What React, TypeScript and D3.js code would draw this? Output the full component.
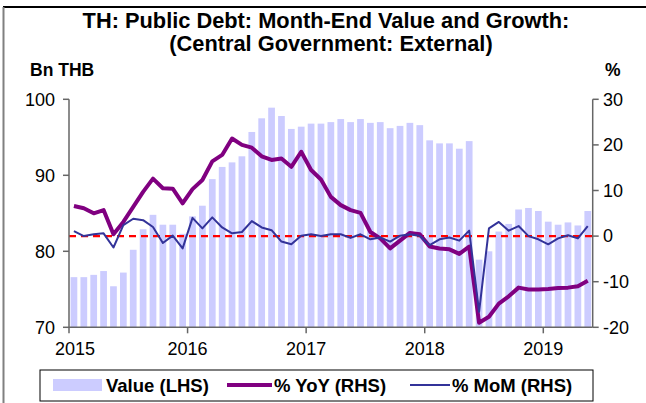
import React from "react";
import * as d3 from "d3";

const W = 646;
const H = 403;

// Monthly categories Jan 2015 .. May 2019
const months: string[] = d3.range(53).map((i) => {
  const y = 2015 + Math.floor(i / 12);
  const m = (i % 12) + 1;
  return `${y}-${String(m).padStart(2, "0")}`;
});

const valueBn: number[] = [
  76.6, 76.6, 76.9, 77.4, 75.4, 77.2, 80.2, 82.9, 84.8, 83.5, 83.5, 82.3,
  84.6, 86.0, 89.5, 91.1, 91.7, 92.5, 95.7, 97.5, 98.9, 97.8, 96.1, 96.4,
  96.8, 96.8, 97.0, 97.4, 97.0, 97.4, 96.9, 97.0, 96.2, 96.5, 96.9, 96.6,
  94.6, 94.2, 94.2, 93.5, 94.5, 78.9, 80.0, 82.6, 83.6, 85.5, 85.7, 85.3,
  83.9, 83.5, 83.8, 83.4, 85.3,
];

const yoyPct: number[] = [
  6.6, 6.1, 5.0, 5.7, 0.4, 3.1, 6.4, 9.7, 12.6, 10.5, 10.4, 7.2,
  10.3, 12.3, 16.4, 17.8, 21.4, 20.0, 19.4, 17.5, 16.7, 17.0, 15.2, 18.5,
  14.5, 12.4, 8.6, 6.8, 5.7, 5.1, 0.9, -0.5, -2.7, -1.0, 0.7, 0.4,
  -2.3, -2.7, -2.9, -3.9, -2.3, -19.0, -17.7, -14.8, -13.2, -11.3, -11.7, -11.7,
  -11.6, -11.4, -11.3, -11.0, -9.8,
];

const momPct: number[] = [
  1.1, 0.0, 0.4, 0.6, -2.5, 2.4, 3.8, 3.5, 2.0, -1.5, 0.1, -2.7,
  4.0, 1.7, 4.1, 1.9, 0.6, 0.9, 3.3, 1.9, 1.3, -1.2, -1.8, 0.1,
  0.4, 0.0, 0.4, 0.4, -0.4, 0.4, -0.7, -0.3, -1.2, 0.1, 0.4, 0.0,
  -2.0, -0.7, -0.3, -1.0, 1.2, -16.6, 1.7, 3.1, 1.2, 2.2, 0.0, -0.7,
  -1.8, -0.5, 0.2, -0.5, 2.2,
];

const yearLabels: string[] = ["2015", "2016", "2017", "2018", "2019"];
const leftTicks: number[] = [70, 80, 90, 100];
const rightTicks: number[] = [-20, -10, 0, 10, 20, 30];

const FONT = "'Liberation Sans', Arial, Helvetica, sans-serif";

export default function App() {
  const plotL = 69;
  const plotR = 592.7;
  const plotT = 99.3;
  const plotB = 327.3;

  const x = d3
    .scaleBand<string>()
    .domain(months)
    .range([plotL, plotR])
    .paddingInner(0.32)
    .paddingOuter(0.16);
  const step = x.step();
  const cx = (i: number) => (x(months[i]) as number) + x.bandwidth() / 2;

  const yL = d3.scaleLinear().domain([70, 100]).range([plotB, plotT]);
  const yR = d3.scaleLinear().domain([-20, 30]).range([plotB, plotT]);

  const line = (vals: number[]) =>
    d3
      .line<number>()
      .x((_, i) => cx(i))
      .y((d) => yR(d))(vals) as string;

  const axisColor = "#666666";

  return (
    <svg
      width={W}
      height={H}
      style={{ position: "absolute", left: 0, top: 0, background: "#fff" }}
      fontFamily={FONT}
    >
      <rect x={0} y={0} width={W} height={H} fill="#ffffff" />
      {/* outer frame fragments */}
      <line x1={3} x2={W} y1={7} y2={7} stroke="#000" strokeWidth={2} />
      <line x1={3.5} x2={3.5} y1={7} y2={H} stroke="#808080" strokeWidth={2} />

      {/* title */}
      <text x={326} y={28} textAnchor="middle" fontSize={21.8} fontWeight="bold">
        TH: Public Debt: Month-End Value and Growth:
      </text>
      <text x={331} y={51} textAnchor="middle" fontSize={21.8} fontWeight="bold">
        (Central Government: External)
      </text>
      <text x={30} y={76} fontSize={17.5} fontWeight="bold">
        Bn THB
      </text>
      <text x={605} y={76} fontSize={17.5} fontWeight="bold">
        %
      </text>

      {/* bars */}
      {valueBn.map((v, i) => (
        <rect
          key={i}
          x={x(months[i])}
          width={x.bandwidth()}
          y={yL(v)}
          height={plotB - yL(v)}
          fill="#ccccff"
        />
      ))}

      {/* zero line */}
      <line
        x1={plotL}
        x2={plotR}
        y1={yR(0)}
        y2={yR(0)}
        stroke="#ff0000"
        strokeWidth={2.2}
        strokeDasharray="7,5"
      />

      {/* YoY */}
      <path d={line(yoyPct)} fill="none" stroke="#800080" strokeWidth={4} strokeLinejoin="round" />
      {/* MoM */}
      <path d={line(momPct)} fill="none" stroke="#333399" strokeWidth={2} strokeLinejoin="round" />

      {/* axes */}
      <line x1={plotL} x2={plotL} y1={plotT} y2={plotB} stroke={axisColor} strokeWidth={1.5} />
      <line x1={plotR} x2={plotR} y1={plotT} y2={plotB} stroke={axisColor} strokeWidth={1.5} />
      <line x1={plotL} x2={plotR} y1={plotB} y2={plotB} stroke={axisColor} strokeWidth={1.5} />

      {leftTicks.map((t) => (
        <g key={"l" + t}>
          <line x1={plotL - 6} x2={plotL} y1={yL(t)} y2={yL(t)} stroke={axisColor} strokeWidth={1.5} />
          <text x={55} y={yL(t)} dy="0.35em" textAnchor="end" fontSize={18}>
            {t}
          </text>
        </g>
      ))}
      {rightTicks.map((t) => (
        <g key={"r" + t}>
          <line x1={plotR} x2={plotR + 6} y1={yR(t)} y2={yR(t)} stroke={axisColor} strokeWidth={1.5} />
          <text x={603} y={yR(t)} dy="0.35em" textAnchor="start" fontSize={18}>
            {t}
          </text>
        </g>
      ))}
      {yearLabels.map((lab, k) => {
        const tx = plotL + k * 12 * step;
        return (
          <g key={lab}>
            <line x1={tx} x2={tx} y1={plotB} y2={plotB + 6} stroke={axisColor} strokeWidth={1.5} />
            <text x={tx + (k === 0 ? 6 : 0)} y={355} textAnchor="middle" fontSize={18}>
              {lab}
            </text>
          </g>
        );
      })}

      {/* legend */}
      <rect x={40} y={370} width={553} height={31} fill="#fff" stroke="#000" strokeWidth={1} />
      <rect x={53} y={379} width={49} height={12} fill="#ccccff" />
      <text x={106} y={392} fontSize={18.5} fontWeight="bold">
        Value (LHS)
      </text>
      <line x1={227} x2={272} y1={385} y2={385} stroke="#800080" strokeWidth={4} />
      <text x={274} y={392} fontSize={18.5} fontWeight="bold">
        % YoY (RHS)
      </text>
      <line x1={410} x2={450} y1={385} y2={385} stroke="#333399" strokeWidth={2} />
      <text x={452} y={392} fontSize={18.5} fontWeight="bold">
        % MoM (RHS)
      </text>
    </svg>
  );
}
